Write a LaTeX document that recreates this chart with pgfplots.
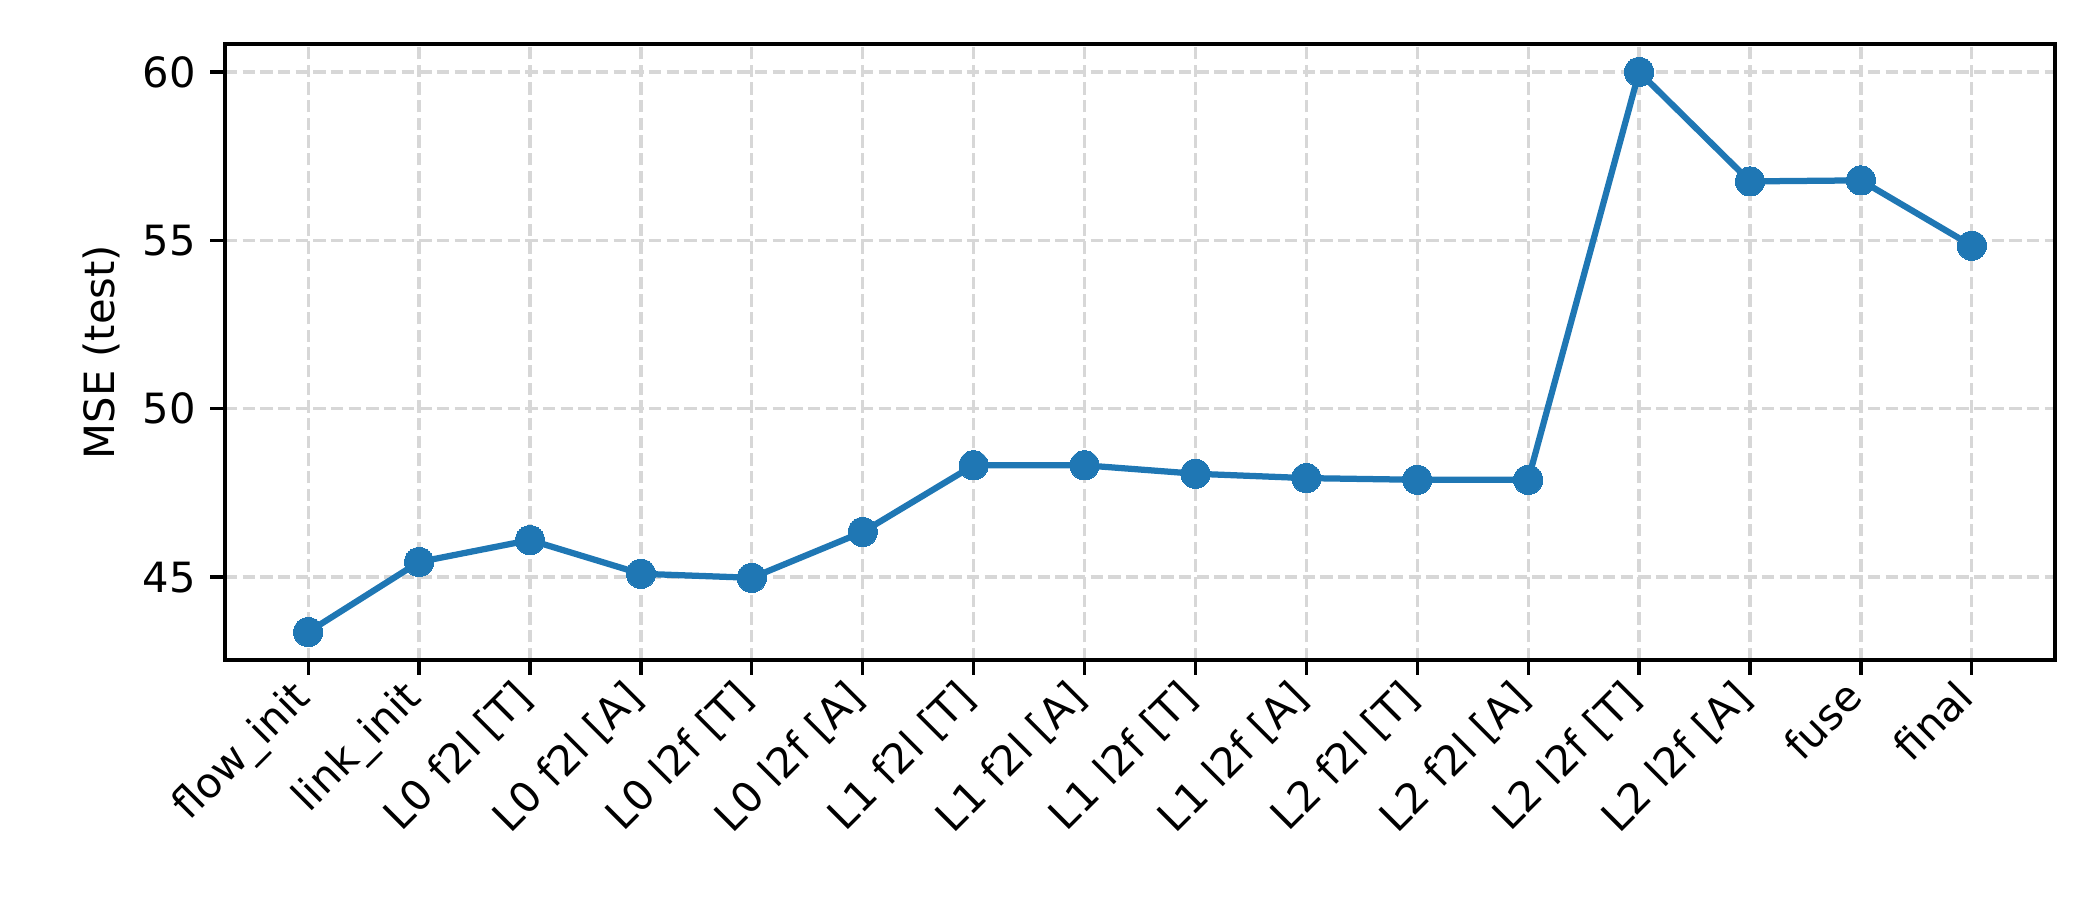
\documentclass[border=0pt]{standalone}
\usepackage{fontspec}
\setmainfont{DejaVu Sans}
\usepackage{pgfplots}
\pgfplotsset{compat=1.18}
\definecolor{tabblue}{RGB}{31,119,180}
\definecolor{gridgray}{RGB}{215,215,215}
\begin{document}
\begin{tikzpicture}
  \begin{axis}[
    scale only axis,
    width=439.2pt, height=147.84pt,
    xmin=-0.75, xmax=15.75,
    ymin=42.54, ymax=60.83,
    xtick={0,...,15},
    xticklabels={flow\_init, link\_init, L0 f2l [T], L0 f2l [A], L0 l2f [T], L0 l2f [A],
      L1 f2l [T], L1 f2l [A], L1 l2f [T], L1 l2f [A], L2 f2l [T], L2 f2l [A],
      L2 l2f [T], L2 l2f [A], fuse, final},
    ytick={45,50,55,60},
    xticklabel style={xshift=-4.5pt, yshift=1pt, rotate=45, anchor=north east, inner sep=1pt},
    ylabel={MSE (test)},
    ylabel style={yshift=-1.5pt},
    /pgf/number format/assume math mode=true,
    tick align=outside, tick pos=left,
    major tick length=3.5pt,
    every tick/.style={black, line width=0.8pt},
    axis line style={line width=0.8pt},
    grid=major,
    major grid style={gridgray, line width=0.8pt, dash pattern=on 2.96pt off 1.28pt},
  ]
  \addplot[tabblue, line width=1.5pt, mark=*, mark size=3.5pt,
    mark options={fill=tabblue, draw=tabblue, line width=0pt}] coordinates {
    (0,43.37)
    (1,45.45)
    (2,46.10)
    (3,45.10)
    (4,44.98)
    (5,46.34)
    (6,48.32)
    (7,48.32)
    (8,48.07)
    (9,47.94)
    (10,47.89)
    (11,47.89)
    (12,60.00)
    (13,56.75)
    (14,56.78)
    (15,54.84)
  };
  \end{axis}
  \pgfresetboundingbox
  \path[use as bounding box] (-54pt,-57.6pt) rectangle (450pt,158.4pt);
\end{tikzpicture}
\end{document}
